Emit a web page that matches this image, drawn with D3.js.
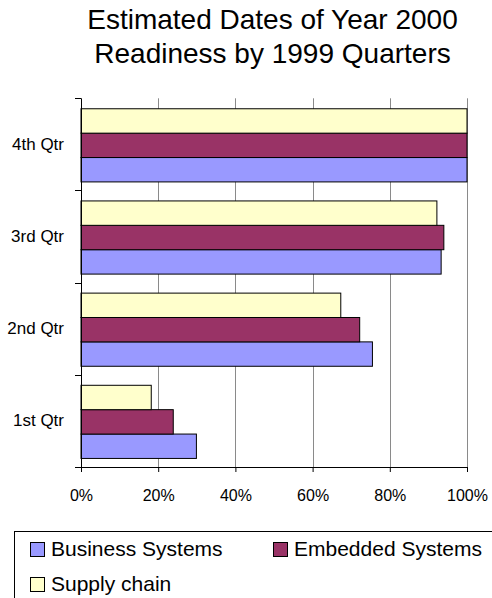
<!DOCTYPE html>
<html>
<head>
<meta charset="utf-8">
<script src="https://cdn.jsdelivr.net/npm/d3@7"></script>
<style>
html,body{margin:0;padding:0;background:#fff;}
svg{display:block;font-family:"Liberation Sans",Arial,Helvetica,sans-serif;}
</style>
</head>
<body>
<svg id="chart" width="492" height="598"></svg>
<script>
const titleLines = ["Estimated Dates of Year 2000", "Readiness by 1999 Quarters"];
const categories = ["4th Qtr", "3rd Qtr", "2nd Qtr", "1st Qtr"];
const seriesNames = ["Business Systems", "Embedded Systems", "Supply chain"];
const seriesColors = ["#9999FF", "#993366", "#FFFFCC"];
const businessSystems = [100, 93.3, 75.5, 29.9];
const embeddedSystems = [100, 94, 72.2, 23.9];
const supplyChain = [100, 92.2, 67.3, 18.2];
const xTicks = [0, 20, 40, 60, 80, 100];

const seriesValues = [businessSystems, embeddedSystems, supplyChain];

const svg = d3.select("#chart");
const plotLeft = 81, plotRight = 467, plotTop = 98.3, plotBottom = 467;

// Title
svg.append("g").selectAll("text").data(titleLines).join("text")
  .attr("x", 272.5)
  .attr("y", (d, i) => 29 + i * 34)
  .attr("text-anchor", "middle")
  .attr("font-size", 28)
  .attr("fill", "#000")
  .text(d => d);

const x = d3.scaleLinear().domain([0, 100]).range([plotLeft, plotRight]);
const y = d3.scaleBand().domain(categories).range([plotTop, plotBottom]).padding(0);
// series order inside a band: Supply chain on top, Business at bottom
const ys = d3.scaleBand().domain([2, 1, 0]).range([0, y.bandwidth()])
  .paddingInner(0).paddingOuter(0.39).align(0.55);

// gridlines
svg.append("g").selectAll("line").data(xTicks.filter(t => t > 0)).join("line")
  .attr("x1", d => Math.round(x(d)) + 0.5).attr("x2", d => Math.round(x(d)) + 0.5)
  .attr("y1", plotTop).attr("y2", plotBottom)
  .attr("stroke", "#8a8a8a").attr("stroke-width", 1);

// bars
const rows = [];
categories.forEach((c, ci) => {
  seriesValues.forEach((vals, si) => {
    rows.push({cat: c, s: si, v: vals[ci]});
  });
});
svg.append("g").selectAll("rect").data(rows).join("rect")
  .attr("x", x(0))
  .attr("y", d => y(d.cat) + ys(d.s))
  .attr("width", d => x(d.v) - x(0))
  .attr("height", ys.bandwidth())
  .attr("fill", d => seriesColors[d.s])
  .attr("stroke", "#000")
  .attr("stroke-width", 1);

// x axis
const xAxis = d3.axisBottom(x).tickValues(xTicks).tickSize(5).tickPadding(18)
  .tickFormat(d => d + "%");
const gx = svg.append("g").attr("transform", `translate(0,${plotBottom})`).call(xAxis);
gx.select(".domain").attr("d", `M${plotLeft - 6},0.5H${plotRight}`).attr("stroke", "#000");
gx.selectAll(".tick line").attr("stroke", "#000");
gx.selectAll(".tick text").attr("font-size", 16).attr("fill", "#000")
  .attr("font-family", '"Liberation Sans",Arial,sans-serif');

// y axis
const yAxis = d3.axisLeft(y).tickSize(0).tickPadding(17);
const gy = svg.append("g").attr("transform", `translate(${plotLeft},0)`).call(yAxis);
gy.select(".domain").attr("d", `M0.5,${plotTop}V${plotBottom}`).attr("stroke", "#000");
gy.selectAll(".tick text").attr("font-size", 17).attr("fill", "#000")
  .attr("font-family", '"Liberation Sans",Arial,sans-serif');
// category boundary ticks
const bounds = categories.map(c => y(c)).concat([plotBottom]);
gy.append("g").selectAll("line").data(bounds).join("line")
  .attr("x1", -6).attr("x2", 0)
  .attr("y1", d => Math.round(d) + 0.5).attr("y2", d => Math.round(d) + 0.5)
  .attr("stroke", "#000");

// legend
const lg = svg.append("g");
lg.append("rect").attr("x", 14.5).attr("y", 531.5).attr("width", 520).attr("height", 120)
  .attr("fill", "#fff").attr("stroke", "#000");
const legendPos = [[30, 542], [273, 542], [30, 577]];
const items = lg.selectAll("g.item").data(seriesNames).join("g").attr("class", "item")
  .attr("transform", (d, i) => `translate(${legendPos[i][0]},${legendPos[i][1]})`);
items.append("rect").attr("x", 0.5).attr("y", 0.5).attr("width", 14).attr("height", 14)
  .attr("fill", (d, i) => seriesColors[i]).attr("stroke", "#000");
items.append("text").attr("x", 21).attr("y", 14)
  .attr("font-size", 21).attr("fill", "#000").text(d => d);
</script>
</body>
</html>
